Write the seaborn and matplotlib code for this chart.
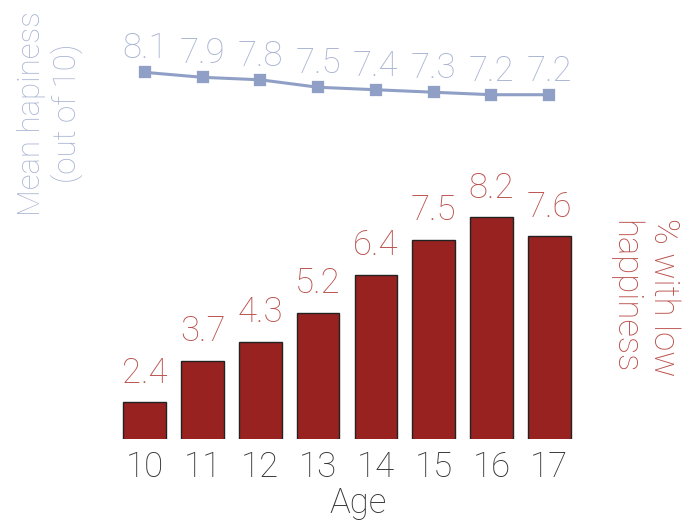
import matplotlib
matplotlib.use("Agg")
import matplotlib.pyplot as plt
import seaborn as sns
import pandas as pd

ages = ["10", "11", "12", "13", "14", "15", "16", "17"]
mean_happiness = [8.1, 7.9, 7.8, 7.5, 7.4, 7.3, 7.2, 7.2]
pct_low = [2.4, 3.7, 4.3, 5.2, 6.4, 7.5, 8.2, 7.6]

sns.set_style("white")
plt.rcParams["font.family"] = ["Roboto", "DejaVu Sans"]
W = "light"

df = pd.DataFrame({"age": ages, "mean": mean_happiness, "low": pct_low})

line_col = "#8f9fc6"
line_txt = "#a9b4d2"
bar_col = "#97221f"
bar_txt = "#b9504b"
fs = 25

fig = plt.figure(figsize=(6.94, 5.28), dpi=100)
ax_top = fig.add_axes([0.167, 0.786, 0.666, 0.121])
ax_bot = fig.add_axes([0.167, 0.168, 0.666, 0.529])

# barres : % avec faible bonheur
sns.barplot(data=df, x="age", y="low", ax=ax_bot, color=bar_col, saturation=1,
            width=0.74, edgecolor="#222222", linewidth=1)
for i, v in enumerate(pct_low):
    ax_bot.annotate(f"{v}", (i, v), xytext=(0, 14), textcoords="offset points",
                    ha="center", va="baseline", fontsize=fs, color=bar_txt,
                    fontweight=W, annotation_clip=False)
ax_bot.set_ylim(1.235, 10)
ax_bot.set_xlim(-0.5, 7.5)
ax_bot.set_yticks([])
ax_bot.set_xlabel("Age", fontsize=fs, color="#333333", fontweight=W, labelpad=2, x=0.525)
ax_bot.set_ylabel("")
ax_bot.tick_params(axis="x", length=0, labelsize=fs, labelcolor="#333333", pad=8)
for t in ax_bot.get_xticklabels():
    t.set_fontweight(W)
sns.despine(ax=ax_bot, left=True, bottom=True)

# ligne : bonheur moyen
sns.pointplot(data=df, x="age", y="mean", ax=ax_top, color=line_col, markers="s",
              markersize=7, linewidth=2.2)
for i, v in enumerate(mean_happiness):
    ax_top.annotate(f"{v}", (i, v), xytext=(0, 10), textcoords="offset points",
                    ha="center", va="baseline", fontsize=fs, color=line_txt,
                    fontweight=W, annotation_clip=False)
ax_top.set_ylim(6.465, 9.035)
ax_top.set_xlim(-0.5, 7.5)
ax_top.set_xticks([])
ax_top.set_yticks([])
ax_top.set_xlabel("")
ax_top.set_ylabel("")
sns.despine(ax=ax_top, left=True, bottom=True)

fig.text(50 / 694, 0.785, "Mean hapiness\n(out of 10)", rotation=90, ha="center", va="center",
         multialignment="center", fontsize=22.5, color=line_txt, fontweight=W)
fig.text(644 / 694, 0.4375, "% with low\nhappiness", rotation=-90, ha="center", va="center",
         multialignment="center", fontsize=fs, color=bar_txt, fontweight=W)

fig.savefig("out.png", dpi=100)
